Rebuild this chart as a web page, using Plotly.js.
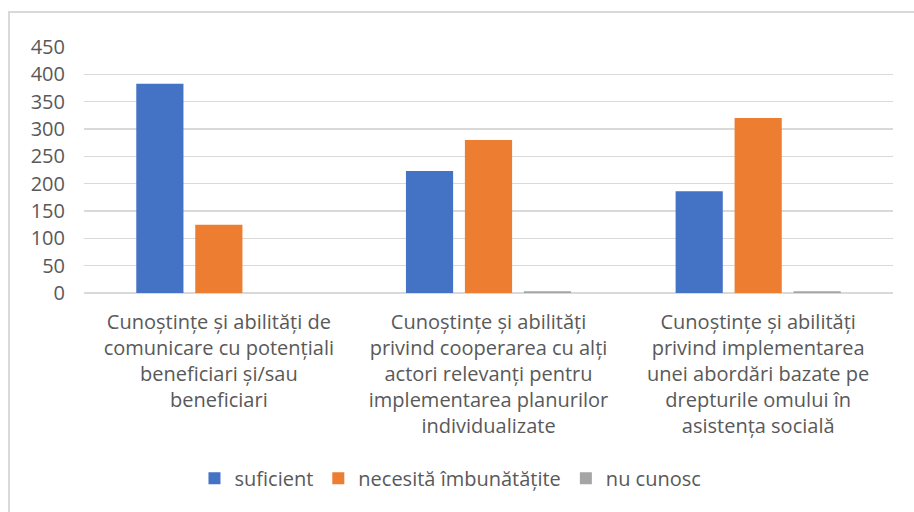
<!DOCTYPE html>
<html>
<head>
<meta charset="utf-8">
<script src="https://cdn.plot.ly/plotly-3.0.1.min.js"></script>
<style>
  html, body { margin: 0; padding: 0; background: #fff; overflow: hidden; }
  #chart { position: absolute; left: 0; top: 0; width: 914px; height: 512px; }
  #frame { position: absolute; left: 8px; top: 11px; width: 940px; height: 540px;
           border: 2px solid #d9d9d9; box-sizing: border-box; pointer-events: none; }
</style>
</head>
<body>
<div id="chart"></div>
<div id="frame"></div>
<script>
const categories = [
  "Cunoștințe și abilități de<br>comunicare cu potențiali<br>beneficiari și/sau<br>beneficiari",
  "Cunoștințe și abilități<br>privind cooperarea cu alți<br>actori relevanți pentru<br>implementarea planurilor<br>individualizate",
  "Cunoștințe și abilități<br>privind implementarea<br>unei abordări bazate pe<br>drepturile omului în<br>asistența socială"
];
const seriesNames = ["suficient", "necesită îmbunătățite", "nu cunosc"];
const suficient = [383, 223, 186];
const necesita = [125, 280, 320];
const nuCunosc = [0, 3, 3];
const colors = ["#4472C4", "#ED7D31", "#A5A5A5"];
const yTicks = [0, 50, 100, 150, 200, 250, 300, 350, 400, 450];

const values = [suficient, necesita, nuCunosc];
const traces = values.map((v, i) => ({
  type: "bar",
  name: seriesNames[i],
  x: categories,
  y: v,
  marker: { color: colors[i] },
  hoverinfo: "none"
}));

const font = { family: "Open Sans, Liberation Sans, Arial, sans-serif", size: 20, color: "#595959" };

const layout = {
  width: 914,
  height: 512,
  margin: { l: 84, r: 21, t: 46.5, b: 219.3 },
  paper_bgcolor: "#ffffff",
  plot_bgcolor: "#ffffff",
  barmode: "group",
  bargap: 0.344,
  bargroupgap: 0.2,
  font: font,
  showlegend: true,
  legend: {
    orientation: "h",
    x: 0.453, xanchor: "center",
    y: -0.753, yanchor: "middle",
    font: font,
    traceorder: "normal"
  },
  xaxis: {
    type: "category",
    tickfont: font,
    showgrid: false,
    showline: false,
    zeroline: false,
    ticks: "",
    ticklabelstandoff: 15,
    tickangle: 0
  },
  yaxis: {
    range: [0, 450],
    tickvals: yTicks,
    ticktext: yTicks.map(String),
    tickfont: font,
    showgrid: true,
    gridcolor: "#d9d9d9",
    gridwidth: 1.5,
    zeroline: true,
    zerolinecolor: "#d9d9d9",
    zerolinewidth: 1.5,
    showline: false,
    ticks: "",
    ticklabelstandoff: 18
  }
};

Plotly.newPlot("chart", traces, layout, { displayModeBar: false, staticPlot: true });
</script>
</body>
</html>
